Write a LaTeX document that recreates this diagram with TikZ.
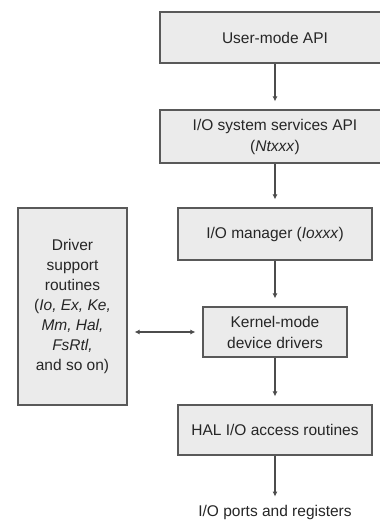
\documentclass[tikz,border=0pt]{standalone}
\usepackage{fontspec}
\setmainfont{Liberation Sans}
\usetikzlibrary{arrows.meta}
\begin{document}
\begin{tikzpicture}[x=1pt,y=-1pt,
  box/.style={draw=black!65,line width=1.2pt,fill=black!8,align=center,inner sep=0pt,
    font=\fontsize{15.5}{21}\selectfont,text=black!85},
  conn/.style={draw=black!70,line width=1.2pt,-{Latex[length=5pt,width=5pt]},shorten >=8pt},
  biconn/.style={draw=black!70,line width=1.2pt,{Latex[length=5pt,width=5pt]}-{Latex[length=5pt,width=5pt]},shorten >=7pt,shorten <=7pt}]
\clip (0,0) rectangle (380,522);
\fill[white] (0,0) rectangle (380,522);
\node[box,minimum width=230pt,minimum height=51pt] (ua) at (275,37.5) {User-mode API};
\node[box,minimum width=230pt,minimum height=53pt] (ss) at (275,136.5) {I/O system services API\\(\textit{Ntxxx})};
\node[box,minimum width=194pt,minimum height=52pt] (im) at (275,234) {I/O manager (\textit{Ioxxx})};
\node[box,minimum width=144pt,minimum height=50pt] (kd) at (275,332) {Kernel-mode\\device drivers};
\node[box,minimum width=194pt,minimum height=50pt] (hal) at (275,430) {HAL I/O access routines};
\node[box,minimum width=109pt,minimum height=197pt,font=\fontsize{15.5}{20}\selectfont] (ds) at (72.5,306.5) {Driver\\support\\routines\\(\textit{Io, Ex, Ke,}\\\textit{Mm, Hal,}\\\textit{FsRtl,}\\and so on)};
\node[font=\fontsize{15.5}{21}\selectfont,text=black!85,inner sep=0pt] (io) at (275,512) {I/O ports and registers};
\draw[conn] (ua) -- (ss);
\draw[conn] (ss) -- (im);
\draw[conn] (im) -- (kd);
\draw[conn] (kd) -- (hal);
\draw[conn] (hal.south) -- (io.north);
\draw[biconn] (ds.east |- kd.west) -- (kd.west);
\end{tikzpicture}
\end{document}
